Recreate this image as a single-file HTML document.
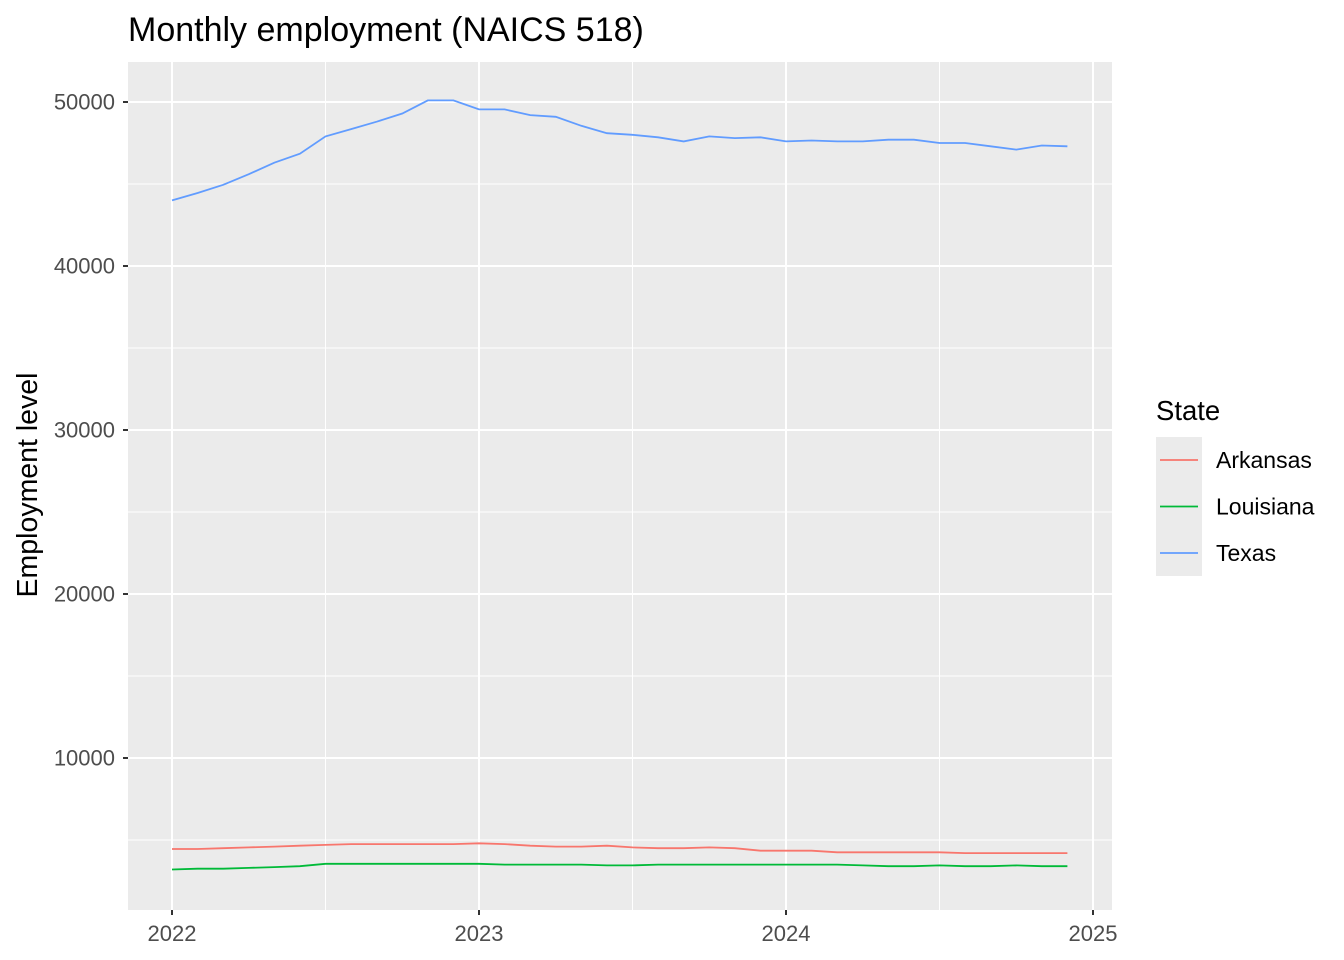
<!DOCTYPE html>
<html><head><meta charset="utf-8"><style>
body{margin:0;background:#fff;}
svg{display:block;font-family:"Liberation Sans",Arial,sans-serif;}
</style></head><body>
<svg id="chart" width="1344" height="960" viewBox="0 0 1344 960">
<rect x="0" y="0" width="1344" height="960" fill="#fff"/>
<text x="128" y="41" font-size="34" fill="#000">Monthly employment (NAICS 518)</text>
<rect x="128" y="62" width="984" height="848" fill="#ebebeb"/>
<g id="grid"></g>
<g id="series"></g>
<g id="axes"></g>
<text transform="translate(37,485) rotate(-90)" text-anchor="middle" font-size="28.5" fill="#000">Employment level</text>
<g>
<text x="1156" y="420" font-size="27.5" fill="#000">State</text>
<rect x="1156" y="437" width="46" height="139" fill="#ebebeb"/>
<g id="legend-items"></g>
</g>
</svg>
<script>
const months = 36;
const startYear = 2022;
const stateNames = ["Arkansas","Louisiana","Texas"];
const stateColors = ["#F8766D","#00BA38","#619CFF"];
const arkansas = [4450,4450,4500,4550,4600,4650,4700,4750,4750,4750,4750,4750,4800,4750,4650,4600,4600,4650,4550,4500,4500,4550,4500,4350,4350,4350,4250,4250,4250,4250,4250,4200,4200,4200,4200,4200];
const louisiana = [3200,3250,3250,3300,3350,3400,3550,3550,3550,3550,3550,3550,3550,3500,3500,3500,3500,3450,3450,3500,3500,3500,3500,3500,3500,3500,3500,3450,3400,3400,3450,3400,3400,3450,3400,3400];
const texas = [44000,44450,44950,45600,46300,46850,47900,48350,48800,49300,50100,50100,49550,49550,49200,49100,48550,48100,48000,47850,47600,47900,47800,47850,47600,47650,47600,47600,47700,47700,47500,47500,47300,47100,47350,47300];
const yTicks = [10000,20000,30000,40000,50000];
const xTicks = [2022,2023,2024,2025];

const NS="http://www.w3.org/2000/svg";
function X(yearFrac){return 172+(yearFrac-2022)*307;}
function Y(v){return 922-v*0.0164;}
function mk(tag,attrs,parent){const e=document.createElementNS(NS,tag);for(const k in attrs)e.setAttribute(k,attrs[k]);parent.appendChild(e);return e;}
const grid=document.getElementById('grid'),axes=document.getElementById('axes'),ser=document.getElementById('series');
for(let i=0;i<yTicks.length;i++){
  const ln=mk('line',{x1:128,x2:1112,y1:Y(yTicks[i]-5000),y2:Y(yTicks[i]-5000),stroke:'#fff','stroke-width':1},grid);
  
  
}
for(let i=0;i<xTicks.length-1;i++){
  const ln=mk('line',{x1:X(xTicks[i]+0.5),x2:X(xTicks[i]+0.5),y1:62,y2:910,stroke:'#fff','stroke-width':1},grid);
  
  
}
yTicks.forEach(t=>{
  const ln=mk('line',{x1:128,x2:1112,y1:Y(t),y2:Y(t),stroke:'#fff','stroke-width':2},grid);
  
  
  const tk=mk('line',{x1:123,x2:128,y1:Y(t),y2:Y(t),stroke:'#333','stroke-width':2},axes);
  
  
  const tx=mk('text',{x:115,y:Y(t)+7.5,'text-anchor':'end','font-size':22,fill:'#4d4d4d'},axes);
  tx.textContent=t;
  
  
});
xTicks.forEach(t=>{
  const ln=mk('line',{x1:X(t),x2:X(t),y1:62,y2:910,stroke:'#fff','stroke-width':2},grid);
  
  
  const tk=mk('line',{x1:X(t),x2:X(t),y1:910,y2:915,stroke:'#333','stroke-width':2},axes);
  
  
  const tx=mk('text',{x:X(t),y:941,'text-anchor':'middle','font-size':22,fill:'#4d4d4d'},axes);
  tx.textContent=t;
  
  
});
const allSeries=[arkansas,louisiana,texas];
allSeries.forEach((vals,s)=>{
  const pts=vals.map((v,i)=>X(startYear+i/12).toFixed(1)+','+Y(v).toFixed(1)).join(' ');
  const pl=mk('polyline',{points:pts,fill:'none',stroke:stateColors[s],'stroke-width':1.8},ser);
  
  
});
const li=document.getElementById('legend-items');
stateNames.forEach((n,i)=>{
  const cy=460+i*46.5;
  const ln=mk('line',{x1:1160,x2:1198,y1:cy,y2:cy,stroke:stateColors[i],'stroke-width':1.8},li);
  
  
  const tx=mk('text',{x:1216,y:cy+8,'font-size':23,fill:'#000'},li);
  tx.textContent=n;
  
  
});
</script>
</body></html>
